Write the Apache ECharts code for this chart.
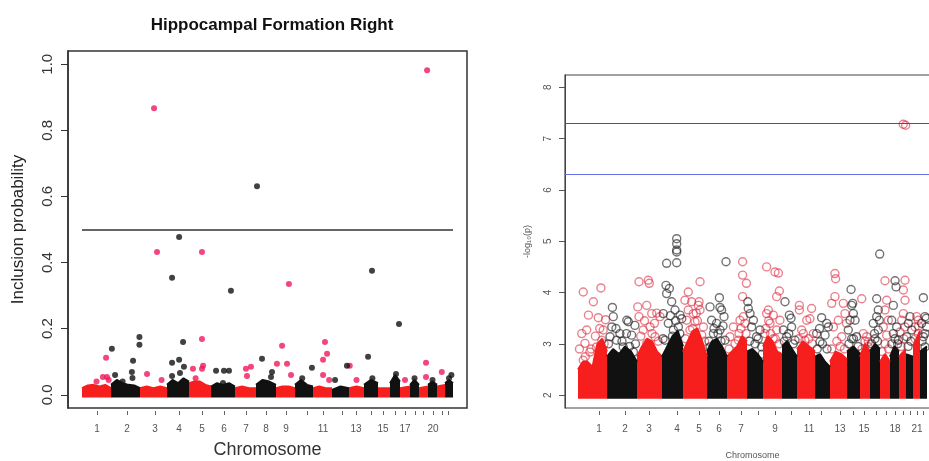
<!DOCTYPE html>
<html>
<head>
<meta charset="utf-8">
<title>Hippocampal Formation Right</title>
<script src="https://cdn.jsdelivr.net/npm/echarts@6/dist/echarts.min.js"></script>
<style>html,body{margin:0;padding:0;background:#fff}#main{width:929px;height:461px}</style>
</head>
<body>
<div id="main"></div>
<script>
// chromosome widths along each genome axis
var chromLenL = [29,29,27,22,22,24,21,20,19,18,19,17,15,14,12,10,10,9,9,9,8,8];
var chromLenR = [29,30,25,21,24,20,20,16,19,15,18,15,17,13,10,10,10,9,7,7,7,7];
// where R put the chromosome ticks
var tickPosL = [15,45,73,97,120,142,164,184,204,225,241,260,274,289,301,313,323,333,341,351,360,366];
var tickPosR = [21,47,71,99,121,141,163,180,197,213,231,243,262,275,286,298,308,317,325,332,339,345];
var labelChromL = [1,2,3,4,5,6,7,8,9,11,13,15,17,20];
var labelChromR = [1,2,3,4,5,6,7,9,11,13,15,18,21];
var yTicksL = [0,0.2,0.4,0.6,0.8,1];
var yTicksR = [2,3,4,5,6,7,8];

// top of the packed SNP band, evenly across each chromosome
var bandL = [
  [0.02,0.028,0.03,0.025,0.03,0.02],[0.03,0.045,0.035,0.03,0.028,0.02],[0.02,0.025,0.02,0.025,0.02],
  [0.03,0.045,0.035,0.05,0.04],[0.035,0.04,0.04,0.03,0.025],[0.025,0.035,0.03,0.035,0.025],
  [0.02,0.025,0.02,0.02],[0.03,0.045,0.04,0.03],[0.02,0.025,0.025,0.02],[0.03,0.045,0.03,0.025],
  [0.02,0.025,0.02,0.02],[0.015,0.025,0.02],[0.02,0.025,0.02],[0.03,0.045,0.035],[0.02,0.02],
  [0.035,0.06,0.04],[0.02,0.025],[0.03,0.045,0.03],[0.02,0.025],[0.03,0.04,0.03],[0.025,0.03],[0.035,0.045,0.035]
];
var bandR = [
  [2.5,2.65,2.65,2.55,3.0,3.1,2.85],[2.75,2.9,2.8,2.95,2.85,2.65],[2.75,2.95,3.1,3.05,2.85,2.75],
  [2.75,2.95,3.15,3.25,2.95],[2.85,3.05,3.25,3.3,3.05,2.75],[2.85,3.05,3.1,2.95,2.75],[2.75,2.85,2.95,3.15,3.05],
  [2.85,2.9,2.8,2.65],[2.95,3.15,3.05,2.85,2.8],[2.95,3.05,2.9,2.75],[2.9,3.05,2.95,2.85],[2.75,2.8,2.65,2.55],
  [2.65,2.85,2.8,2.7],[2.85,2.95,2.8],[2.75,3.0,2.85],[2.85,3.0,2.9],[2.65,2.8,2.65],[2.75,2.95,2.85],
  [2.75,2.9],[2.8,2.75],[2.95,3.25],[2.85,2.95]
];

// single SNPs above the band: [chromosome, place within chromosome 0-1, value]
var snpL = [
  [1,.83,.112],[1,.72,.054],[1,.86,.054],[1,.5,.04],[1,.92,.045],
  [2,.03,.139],[2,.98,.175],[2,.98,.151],[2,.76,.103],[2,.72,.069],[2,.74,.051],[2,.14,.06],[2,.4,.04],
  [3,.52,.867],[3,.63,.432],[3,.26,.063],[3,.8,.045],
  [4,.55,.477],[4,.23,.354],[4,.73,.16],[4,.23,.097],[4,.55,.106],[4,.23,.057],[4,.59,.066],[4,.77,.085],
  [5,.59,.432],[5,.59,.169],[5,.59,.079],[5,.18,.079],[5,.64,.088],[5,.3,.05],
  [6,.83,.315],[6,.21,.073],[6,.54,.073],[6,.75,.073],[6,.5,.036],
  [7,.57,.057],[7,.76,.085],[7,.52,.079],
  [8,.05,.631],[8,.3,.109],[8,.8,.069],[8,.75,.054],
  [9,.68,.335],[9,.32,.148],[9,.05,.094],[9,.58,.094],[9,.79,.06],
  [10,.94,.082],[10,.4,.05],
  [11,.63,.16],[11,.74,.124],[11,.53,.106],[11,.53,.06],[11,.85,.045],
  [12,.18,.045],[12,.88,.088],[13,.05,.088],[13,.5,.045],
  [14,.57,.375],[14,.29,.115],[14,.6,.05],
  [16,.9,.214],[16,.6,.063],[17,.5,.045],[18,.5,.05],
  [19,.9,.982],[19,.78,.097],[19,.78,.054],[20,.5,.045],[21,.6,.069],[22,.5,.05],[22,.8,.06]
];
var snpR = [
  [1,.18,4.01],[1,.53,3.82],[1,.79,4.09],[1,.36,3.56],[1,.70,3.51],[1,.95,3.47],[1,.13,3.2],[1,.30,3.27],[1,.24,3.01],[1,.41,2.84],[1,.64,2.94],[1,.87,3.27],[1,.82,3.07],[1,.18,2.68],
  [1,.05,2.9],[1,.25,2.75],[1,.45,2.9],[1,.6,3.15],[1,.9,3.0],[1,.75,3.3],
  [2,.18,3.71],[2,.21,3.53],[2,.16,3.33],[2,.66,3.46],[2,.71,3.43],[2,.93,3.36],[2,.43,3.2],[2,.82,3.17],[2,.32,3.07],[2,.54,2.94],[2,.88,2.84],[2,.1,3.14],
  [2,.05,3.0],[2,.3,3.3],[2,.5,3.05],[2,.65,3.2],[2,.95,3.0],[2,.75,2.95],
  [3,.08,4.21],[3,.45,4.24],[3,.49,4.18],[3,.03,3.72],[3,.39,3.75],[3,.08,3.53],[3,.59,3.59],[3,.79,3.6],[3,.92,3.53],[3,.25,3.27],[3,.52,3.33],[3,.72,3.14],[3,.39,3.01],
  [3,.15,3.15],[3,.3,3.45],[3,.6,3.2],[3,.85,3.05],[3,.7,3.4],
  [4,.22,4.57],[4,.7,4.58],[4,.7,5.05],[4,.7,4.95],[4,.7,4.83],[4,.7,4.79],[4,.19,4.14],[4,.35,4.08],[4,.22,3.98],[4,.46,3.82],[4,.62,3.66],[4,.86,3.56],[4,.94,3.49],[4,.3,3.4],[4,.54,3.27],[4,.78,3.33],[4,.14,3.07],[4,.06,3.59],
  [4,.05,3.1],[4,.4,3.55],[4,.65,3.45],[4,.85,3.2],[4,.5,3.15],
  [5,.22,4.01],[5,.71,4.21],[5,.67,3.82],[5,.64,3.75],[5,.08,3.85],[5,.36,3.82],[5,.22,3.66],[5,.43,3.59],[5,.71,3.66],[5,.15,3.46],[5,.5,3.43],[5,.85,3.33],[5,.29,3.27],[5,.78,3.17],
  [5,.1,3.1],[5,.4,3.3],[5,.6,3.45],[5,.9,3.05],[5,.55,3.6],
  [6,.15,3.72],[6,.62,3.9],[6,.65,3.71],[6,.73,3.66],[6,.85,3.53],[6,.23,3.46],[6,.48,3.4],[6,.65,3.27],[6,.32,3.2],[6,.9,3.07],[6,.15,2.94],[6,.95,4.6],
  [6,.1,3.05],[6,.35,3.3],[6,.55,3.2],[6,.8,3.35],[6,.7,3.05],
  [7,.78,4.6],[7,.78,4.34],[7,.97,4.18],[7,.78,3.92],[7,.82,3.53],[7,.65,3.46],[7,.32,3.33],[7,.9,3.4],[7,.15,3.14],[7,.57,3.07],
  [7,.1,2.9],[7,.4,3.0],[7,.6,3.2],[7,.7,3.3],[7,.95,3.2],
  [8,.08,3.69],[8,.19,3.59],[8,.4,3.46],[8,.81,3.27],[8,.29,3.33],[8,.6,3.14],[8,.92,2.94],[8,.05,3.82],
  [8,.15,3.05],[8,.5,3.0],[8,.7,3.1],[8,.95,2.8],
  [9,.19,4.5],[9,.63,4.4],[9,.81,4.38],[9,.72,3.92],[9,.86,4.03],[9,.28,3.66],[9,.19,3.59],[9,.54,3.56],[9,.89,3.46],[9,.37,3.4],[9,.72,3.27],[9,.1,3.2],[9,.54,3.1],
  [9,.15,3.3],[9,.4,3.2],[9,.65,3.1],[9,.85,3.0],[9,.3,3.45],
  [10,.2,3.82],[10,.49,3.56],[10,.09,3.27],[10,.64,3.33],[10,.31,3.14],[10,.87,3.07],
  [10,.15,3.05],[10,.45,3.2],[10,.75,3.0],[10,.6,3.5],
  [11,.13,3.75],[11,.13,3.66],[11,.81,3.69],[11,.54,3.46],[11,.72,3.49],[11,.26,3.27],[11,.91,3.2],[11,.44,3.07],
  [11,.1,3.1],[11,.35,3.2],[11,.65,3.1],[11,.85,3.0],
  [12,.44,3.51],[12,.78,3.4],[12,.11,3.2],[12,.67,3.17],[12,.89,3.33],[12,.33,3.04],
  [12,.15,2.9],[12,.5,3.0],[12,.8,2.9],[12,.3,3.3],
  [13,.29,4.37],[13,.33,4.27],[13,.29,3.92],[13,.1,3.79],[13,.78,3.79],[13,.49,3.46],[13,.88,3.59],[13,.2,3.33],[13,.69,3.14],[13,.97,3.4],
  [13,.1,2.9],[13,.4,3.05],[13,.6,2.95],[13,.85,2.9],
  [14,.31,4.06],[14,.44,3.79],[14,.36,3.75],[14,.49,3.59],[14,.23,3.46],[14,.62,3.46],[14,.1,3.27],[14,.74,3.14],[14,.36,3.1],
  [14,.15,3.0],[14,.5,3.1],[14,.85,2.95],
  [15,.17,3.88],[15,.67,3.14],[15,.33,3.2],[15,.83,3.04],[15,.2,2.9],[15,.5,3.05],[15,.8,2.95],
  [16,.97,4.75],[16,.67,3.88],[16,.83,3.66],[16,.67,3.53],[16,.33,3.4],[16,.83,3.27],[16,.5,3.1],[16,.93,3.46],
  [16,.15,3.0],[16,.45,3.2],[16,.75,3.05],
  [17,.5,4.23],[17,.67,3.85],[17,.5,3.66],[17,.83,3.46],[17,.33,3.33],[17,.67,3.17],[17,.2,2.85],[17,.5,3.0],[17,.85,2.9],
  [18,.56,4.23],[18,.67,4.11],[18,.37,3.75],[18,.19,3.46],[18,.74,3.33],[18,.37,3.2],[18,.93,3.07],[18,.2,3.0],[18,.55,3.1],[18,.85,3.0],
  [19,.86,4.24],[19,.62,4.05],[19,.86,3.85],[19,.62,3.59],[19,.38,3.46],[19,.86,3.33],[19,.14,3.23],[19,.6,7.28],[19,.95,7.26],[19,.3,2.95],[19,.7,3.1],
  [20,.57,3.53],[20,.33,3.4],[20,.81,3.27],[20,.1,3.14],[20,.3,2.95],[20,.7,3.05],
  [21,.52,3.53],[21,.76,3.46],[21,.29,3.33],[21,.76,3.2],[21,.3,3.1],[21,.8,3.35],
  [22,.48,3.9],[22,.71,3.53],[22,.24,3.4],[22,.95,3.33],[22,.48,3.14],[22,.71,2.94],[22,.3,3.05],[22,.7,3.2],[22,.9,3.5]
];

function starts(lens) {
  var s = [], acc = 0;
  for (var i = 0; i < lens.length; i++) { s.push(acc); acc += lens[i]; }
  return s;
}
var startL = starts(chromLenL), startR = starts(chromLenR);

// band outline for odd (red) or even (black) chromosomes, broken by nulls
function bandData(lens, st, band, odd) {
  var out = [];
  for (var c = 0; c < band.length; c++) {
    if (((c + 1) % 2 === 1) !== odd) continue;
    var v = band[c], n = v.length;
    for (var k = 0; k < n; k++) out.push([st[c] + lens[c] * k / (n - 1), v[k]]);
    out.push(null);
  }
  return out;
}
function snpData(lens, st, snps, odd) {
  return snps.filter(function (p) { return (p[0] % 2 === 1) === odd; })
    .map(function (p) { return [st[p[0] - 1] + lens[p[0] - 1] * p[1], p[2]]; });
}

var redBand = '#f71e1e', blackBand = '#111';
var myChart = echarts.init(document.getElementById('main'));

function xAxisFor(grid, min, max, ticks, labels, nameSize, nameGap) {
  return {
    gridIndex: grid, type: 'value', min: min, max: max, offset: 3,
    axisLine: { show: false, onZero: false }, splitLine: { show: false },
    axisTick: { show: true, length: 4, lineStyle: { color: '#666' }, customValues: ticks },
    axisLabel: {
      customValues: labels.map(function (c) { return ticks[c - 1]; }),
      formatter: function (v) { return String(ticks.indexOf(v) + 1); },
      color: '#555', fontSize: 10, margin: 13, fontFamily: 'Liberation Sans'
    },
    name: 'Chromosome', nameLocation: 'middle', nameGap: nameGap,
    nameTextStyle: { fontSize: nameSize, color: nameSize > 12 ? '#333' : '#555', fontFamily: 'Liberation Sans' }
  };
}

var option = {
  animation: false,
  backgroundColor: '#fff',
  title: {
    text: 'Hippocampal Formation Right', left: 267, top: 12, textAlign: 'center',
    textStyle: { fontSize: 17, fontWeight: 'bold', color: '#111', fontFamily: 'Liberation Sans' }
  },
  grid: [
    { left: 68, top: 51, width: 399, height: 357, outerBoundsMode: 'none', show: true, borderColor: '#333', borderWidth: 1.5 },
    { left: 565, top: 75, width: 375, height: 333, outerBoundsMode: 'none', show: true, borderColor: '#444', borderWidth: 1.2 }
  ],
  xAxis: [
    xAxisFor(0, -14, 385, tickPosL, labelChromL, 18, 30),
    xAxisFor(1, -13, 362, tickPosR, labelChromR, 9, 40)
  ],
  yAxis: [
    {
      gridIndex: 0, type: 'value', min: -0.04, max: 1.04,
      axisLine: { show: true, onZero: false, lineStyle: { color: '#333', width: 1.5 } }, splitLine: { show: false },
      axisTick: { show: true, length: 7, lineStyle: { color: '#333' }, customValues: yTicksL },
      axisLabel: {
        customValues: yTicksL, rotate: 90, margin: 13, fontSize: 15, color: '#333', fontFamily: 'Liberation Sans',
        formatter: function (v) { return v.toFixed(1); }
      },
      name: 'Inclusion probability', nameLocation: 'middle', nameGap: 41,
      nameTextStyle: { fontSize: 17, color: '#222', fontFamily: 'Liberation Sans' }
    },
    {
      gridIndex: 1, type: 'value', min: 1.75, max: 8.24,
      axisLine: { show: true, onZero: false, lineStyle: { color: '#444' } }, splitLine: { show: false },
      axisTick: { show: true, length: 6, lineStyle: { color: '#555' }, customValues: yTicksR },
      axisLabel: { customValues: yTicksR, rotate: 90, margin: 12, fontSize: 10, color: '#555', fontFamily: 'Liberation Sans' },
      name: '-log\u2081\u2080(p)', nameLocation: 'middle', nameGap: 33,
      nameTextStyle: { fontSize: 9, color: '#555', fontFamily: 'Liberation Sans' }
    }
  ],
  series: [
    {
      type: 'line', xAxisIndex: 0, yAxisIndex: 0, symbol: 'none', connectNulls: false,
      data: bandData(chromLenL, startL, bandL, true),
      lineStyle: { color: redBand, width: 2 }, areaStyle: { color: redBand, opacity: 1, origin: -0.008 },
      markLine: {
        symbol: 'none', silent: true, label: { show: false },
        lineStyle: { color: '#333', width: 1.5, type: 'solid' },
        data: [[{ coord: [0, 0.5] }, { coord: [371, 0.5] }]]
      }
    },
    {
      type: 'line', xAxisIndex: 0, yAxisIndex: 0, symbol: 'none', connectNulls: false,
      data: bandData(chromLenL, startL, bandL, false),
      lineStyle: { color: blackBand, width: 2 }, areaStyle: { color: blackBand, opacity: 1, origin: -0.008 }
    },
    {
      type: 'scatter', xAxisIndex: 0, yAxisIndex: 0, symbolSize: 6,
      data: snpData(chromLenL, startL, snpL, true), itemStyle: { color: '#f0185a' }
    },
    {
      type: 'scatter', xAxisIndex: 0, yAxisIndex: 0, symbolSize: 6,
      data: snpData(chromLenL, startL, snpL, false), itemStyle: { color: '#111' }
    },
    {
      type: 'line', xAxisIndex: 1, yAxisIndex: 1, symbol: 'none', connectNulls: false,
      data: bandData(chromLenR, startR, bandR, true),
      lineStyle: { color: redBand, width: 2 }, areaStyle: { color: redBand, opacity: 1, origin: 1.93 },
      markLine: {
        symbol: 'none', silent: true, label: { show: false },
        data: [
          { yAxis: 7.3, lineStyle: { color: '#555', width: 1.2, type: 'solid' } },
          { yAxis: 6.3, lineStyle: { color: '#6a70ea', width: 1, type: 'solid' } }
        ]
      }
    },
    {
      type: 'line', xAxisIndex: 1, yAxisIndex: 1, symbol: 'none', connectNulls: false,
      data: bandData(chromLenR, startR, bandR, false),
      lineStyle: { color: blackBand, width: 2 }, areaStyle: { color: blackBand, opacity: 1, origin: 1.93 }
    },
    {
      type: 'scatter', xAxisIndex: 1, yAxisIndex: 1, symbolSize: 8,
      data: snpData(chromLenR, startR, snpR, true),
      itemStyle: { color: 'rgba(0,0,0,0)', borderColor: 'rgba(220,45,65,0.75)', borderWidth: 1.4 }
    },
    {
      type: 'scatter', xAxisIndex: 1, yAxisIndex: 1, symbolSize: 8,
      data: snpData(chromLenR, startR, snpR, false),
      itemStyle: { color: 'rgba(0,0,0,0)', borderColor: 'rgba(35,35,35,0.8)', borderWidth: 1.4 }
    }
  ]
};

myChart.setOption(option);
</script>
</body>
</html>
